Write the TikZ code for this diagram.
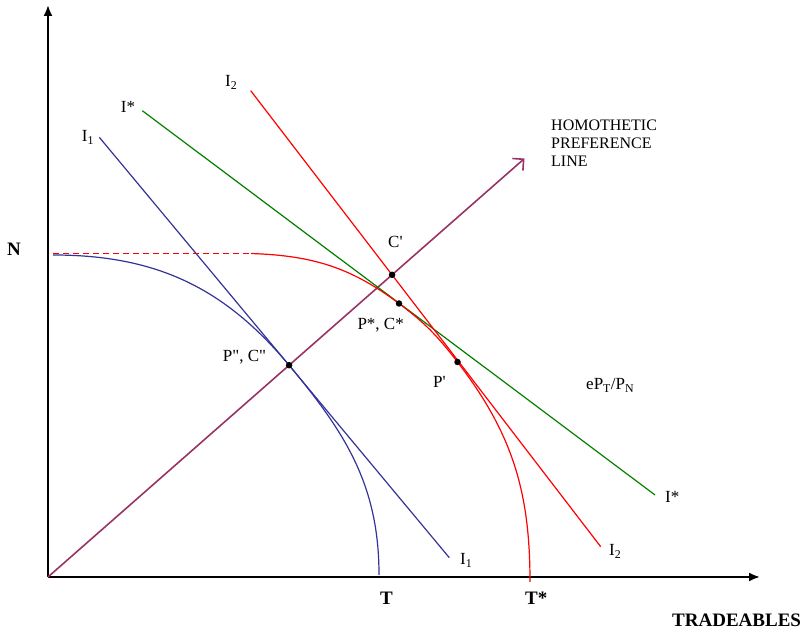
\documentclass[tikz,border=0pt]{standalone}
\usepackage{fontspec}
\setmainfont{Liberation Serif}
\newfontfamily\lbfont{Liberation Serif}
\usetikzlibrary{arrows.meta}
\definecolor{ppfblue}{RGB}{51,51,153}
\definecolor{homo}{RGB}{153,51,102}
\definecolor{istar}{RGB}{0,128,0}
\definecolor{ired}{RGB}{255,0,0}
\begin{document}
\begin{tikzpicture}[x=1pt,y=1pt,
  lbl/.style={font=\lbfont\fontsize{17}{18}\selectfont, inner sep=0pt, anchor=base west},
  blbl/.style={font=\lbfont\bfseries\fontsize{19}{20}\selectfont, inner sep=0pt, anchor=base west},
  axis/.style={line width=2pt, -{Latex[length=11pt,width=9pt]}},
  curve/.style={line width=1.2pt},
  dot/.style={circle, fill=black, inner sep=0pt, minimum size=6.5pt}]
\useasboundingbox (0,0) rectangle (808,636);
% key points
\coordinate (O) at (48,59);
\coordinate (ytop) at (48,631);
\coordinate (xend) at (760,59);
\coordinate (homend) at (524.5,477.5);
\coordinate (I1a) at (99.3,498.7);
\coordinate (I1b) at (449.3,78.3);
\coordinate (Isa) at (142.3,525.3);
\coordinate (Isb) at (655,141);
\coordinate (I2a) at (250.7,545.3);
\coordinate (I2b) at (600.7,89.3);
\coordinate (B0) at (53,381);
\coordinate (T) at (379,61);
\coordinate (R0) at (251,382.5);
\coordinate (D0) at (53,382.5);
\coordinate (Ts) at (530,54);
\coordinate (Ps) at (399,332.5);
\coordinate (Pp) at (457.5,274);
\coordinate (Cpp) at (intersection of O--homend and I1a--I1b);
\coordinate (Cp) at (intersection of O--homend and I2a--I2b);
% axes
\draw[axis] (O) -- (ytop);
\draw[axis] (O) -- (xend);
% homothetic line
\draw[homo, line width=1.6pt, -{Straight Barb[length=8pt,width=16pt,line width=1.6pt]}] (O) -- (homend);
% indifference lines
\draw[ppfblue, curve] (I1a) -- (I1b);
\draw[istar, curve] (Isa) -- (Isb);
\draw[ired, curve] (I2a) -- (I2b);
% PPFs
\draw[ppfblue, curve] (B0) to[out=0,in=129.8] (Cpp) to[out=-50.2,in=90] (T);
\draw[ired, curve, dashed, dash pattern=on 6pt off 4pt] (D0) -- (R0);
\draw[ired, curve] (R0) to[out=-2,in=143.13] (Ps) to[out=-36.87,in=127.5] (Pp) to[out=-52.5,in=90] (Ts);
% dots
\node[dot] (dCpp) at (Cpp) {};
\node[dot] (dCp) at (Cp) {};
\node[dot] (dPs) at (Ps) {};
\node[dot] (dPp) at (Pp) {};
% labels
\node[blbl] (lN) at (7,380) {N};
\node[lbl] (lI2t) at (225,549.3) {I\textsubscript{2}};
\node[lbl] (lIst) at (120.7,523) {I*};
\node[lbl] (lI1t) at (81.7,494.3) {I\textsubscript{1}};
\node[lbl, font=\lbfont\fontsize{16}{18}\selectfont, anchor=north west, align=left] (lhom) at (551,516) {HOMOTHETIC\\PREFERENCE\\LINE};
\node[lbl] (lCp) at (388,388.7) {C'};
\node[lbl] (lPs) at (357.3,306) {P*, C*};
\node[lbl] (lCpp) at (222.7,274.3) {P", C"};
\node[lbl] (lPp) at (433,248) {P'};
\node[lbl] (lslope) at (586,246) {eP\textsubscript{T}/P\textsubscript{N}};
\node[lbl] (lI1b) at (460,71) {I\textsubscript{1}};
\node[lbl] (lI2b) at (609,80) {I\textsubscript{2}};
\node[lbl] (lIsb) at (665,133) {I*};
\node[blbl] (lT) at (380,31) {T};
\node[blbl] (lTs) at (525,31) {T*};
\node[blbl] (ltrad) at (672,9) {TRADEABLES};
\end{tikzpicture}
\end{document}
